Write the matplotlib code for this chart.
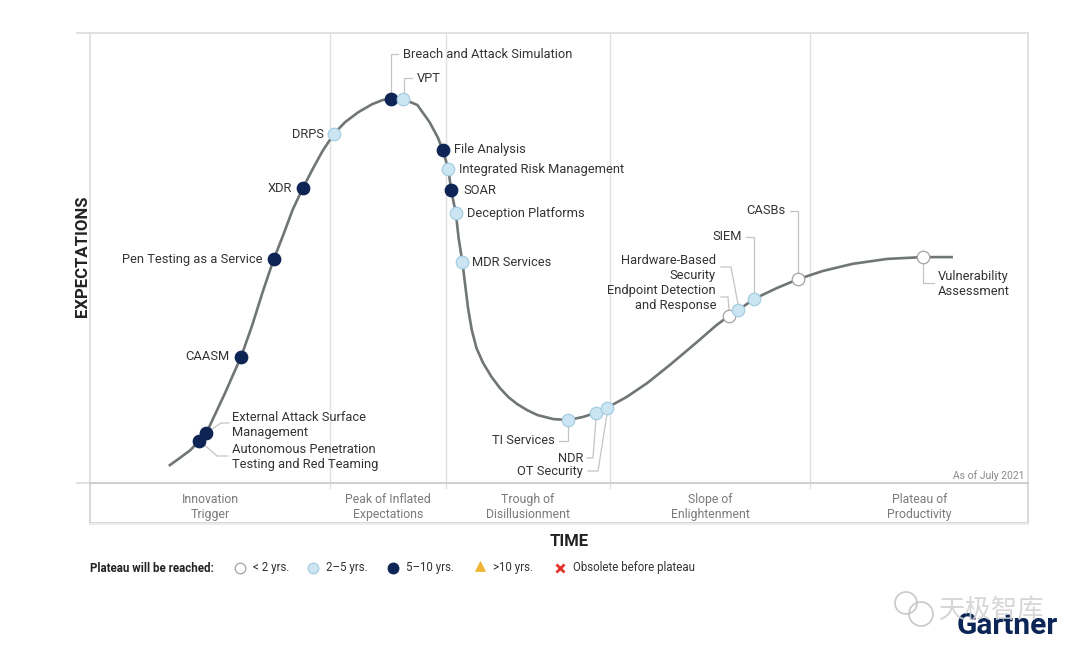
import numpy as np
import matplotlib.pyplot as plt
from matplotlib.patches import Rectangle, Circle

plt.rcParams['font.family'] = ['Roboto', 'DejaVu Sans']

# hype curve (time, expectations), both 0..100
curve_t = [8.4, 9.6, 10.7, 11.6, 12.4, 13.3, 14.4, 15.2, 16.1, 17.3, 18.4, 19.6,
           20.6, 21.6, 22.7, 23.8, 24.8, 26.0, 27.2, 28.6, 30.1, 31.2, 32.1, 32.7,
           33.4, 34.9, 36.2, 37.1, 37.6, 38.2, 38.5, 39.0, 39.3, 39.7, 40.0, 40.3,
           40.7, 41.2, 41.9, 42.8, 43.7, 44.6, 45.5, 46.6, 47.7, 49.4, 51.0, 52.6,
           53.9, 55.1, 57.2, 59.4, 61.8, 64.7, 66.8, 68.1, 69.1, 70.8, 73.2, 75.5,
           78.1, 81.3, 85.0, 88.8, 92.0]
curve_e = [3.8, 5.6, 7.3, 9.3, 11.1, 15.1, 20.0, 23.8, 28.0, 35.1, 42.4, 49.8,
           55.1, 60.7, 65.6, 70.0, 73.8, 77.6, 80.2, 82.4, 84.2, 85.1, 85.3, 85.6,
           85.3, 84.0, 80.2, 76.7, 74.0, 69.8, 65.1, 60.0, 54.4, 49.1, 44.0, 38.9,
           34.0, 30.0, 26.7, 23.6, 21.1, 19.1, 17.6, 16.2, 15.1, 14.2, 14.0, 14.7,
           15.6, 16.7, 19.1, 22.2, 26.2, 31.3, 35.1, 37.1, 38.4, 40.9, 43.3, 45.3,
           47.1, 48.7, 49.8, 50.2, 50.2]

# technologies on the curve
tech_names = ['Autonomous Penetration\nTesting and Red Teaming',
              'External Attack Surface\nManagement', 'CAASM',
              'Pen Testing as a Service', 'XDR', 'DRPS',
              'Breach and Attack Simulation', 'VPT', 'File Analysis',
              'Integrated Risk Management', 'SOAR', 'Deception Platforms',
              'MDR Services', 'TI Services', 'NDR', 'OT Security',
              'Endpoint Detection\nand Response', 'Hardware-Based\nSecurity',
              'SIEM', 'CASBs', 'Vulnerability\nAssessment']
tech_t = [11.6, 12.4, 16.1, 19.6, 22.7, 26.0, 32.1, 33.4, 37.6, 38.2, 38.5, 39.0,
          39.7, 51.0, 53.9, 55.1, 68.1, 69.1, 70.8, 75.5, 88.8]
tech_e = [9.3, 11.1, 28.0, 49.8, 65.6, 77.6, 85.3, 85.3, 74.0, 69.8, 65.1, 60.0,
          49.1, 14.0, 15.6, 16.7, 37.1, 38.4, 40.9, 45.3, 50.2]
tech_plateau = ['5-10', '5-10', '5-10', '5-10', '5-10', '2-5', '5-10', '2-5', '5-10',
                '2-5', '5-10', '2-5', '2-5', '2-5', '2-5', '2-5', '<2', '2-5', '2-5',
                '<2', '<2']

phase_names = ['Innovation\nTrigger', 'Peak of Inflated\nExpectations',
               'Trough of\nDisillusionment', 'Slope of\nEnlightenment',
               'Plateau of\nProductivity']
phase_edges = [0, 25.6, 37.95, 55.4, 76.8, 100]

legend_keys = ['<2', '2-5', '5-10', '>10', 'obsolete']
legend_texts = ['< 2 yrs.', '2\u20135 yrs.', '5\u201310 yrs.', '>10 yrs.',
                'Obsolete before plateau']

NAVY = '#0d2454'
styles = {
    '<2': dict(marker='o', ms=9, mfc='white', mec='#a3a3a3', mew=0.9),
    '2-5': dict(marker='o', ms=9, mfc='#cbe5f3', mec='#a6cde2', mew=0.9),
    '5-10': dict(marker='o', ms=9, mfc=NAVY, mec=NAVY, mew=0.9),
    '>10': dict(marker='^', ms=8.5, mfc='#f0b530', mec='#f0b530', mew=0.5),
    'obsolete': dict(marker='x', ms=6.5, mfc='#e2332c', mec='#e2332c', mew=2),
}

# plot box in reference pixels
X0, X1, Y0, Y1 = 90, 1028, 33, 483
W, H = 1080, 660


def px(x, y):
    # reference pixel -> (time, expectations)
    return (x - X0) / (X1 - X0) * 100, (Y1 - y) / (Y1 - Y0) * 100


# label placement: text anchor (px), alignment, leader path (px)
label_layout = {
    'Autonomous Penetration\nTesting and Red Teaming': ((232, 457), 'left', [(200, 441), (217, 456), (228, 456)]),
    'External Attack Surface\nManagement': ((232, 425), 'left', [(206, 433), (221, 423), (229, 423)]),
    'CAASM': ((230, 357), 'right', None),
    'Pen Testing as a Service': ((263, 259), 'right', None),
    'XDR': ((292, 188), 'right', None),
    'DRPS': ((324, 134), 'right', None),
    'Breach and Attack Simulation': ((403, 54), 'left', [(391, 93), (391, 54), (398, 54)]),
    'VPT': ((417, 78), 'left', [(404, 93), (404, 78), (412, 78)]),
    'File Analysis': ((454, 150), 'left', None),
    'Integrated Risk Management': ((459, 170), 'left', None),
    'SOAR': ((463, 191), 'left', None),
    'Deception Platforms': ((467, 214), 'left', None),
    'MDR Services': ((472, 263), 'left', None),
    'TI Services': ((555, 441), 'right', [(568, 425), (568, 441), (559, 441)]),
    'NDR': ((583, 458), 'right', [(596, 418), (593, 458), (587, 458)]),
    'OT Security': ((583, 472), 'right', [(607, 414), (598, 471), (588, 471)]),
    'Endpoint Detection\nand Response': ((716, 298), 'right', [(729, 310), (728, 297), (721, 297)]),
    'Hardware-Based\nSecurity': ((716, 268), 'right', [(738, 304), (731, 267), (721, 267)]),
    'SIEM': ((742, 237), 'right', [(754, 293), (754, 237), (746, 237)]),
    'CASBs': ((785, 211), 'right', [(798, 273), (798, 211), (790, 211)]),
    'Vulnerability\nAssessment': ((938, 284), 'left', [(923, 263), (923, 283), (934, 283)]),
}

fig = plt.figure(figsize=(W / 100, H / 100), dpi=100)

# background axes in pixel units for frame pieces, legend, logo
bg = fig.add_axes([0, 0, 1, 1])
bg.set_xlim(0, W)
bg.set_ylim(H, 0)
bg.axis('off')

ax = fig.add_axes([X0 / W, 1 - Y1 / H, (X1 - X0) / W, (Y1 - Y0) / H])
ax.set_xlim(0, 100)
ax.set_ylim(0, 100)
for s in ax.spines.values():
    s.set_color('#dcdcdc')
    s.set_linewidth(1.2)
ax.spines['bottom'].set_color('#c9c9c9')
ax.set_xticks([])
ax.set_yticks([0, 100])
ax.set_yticklabels([])
ax.tick_params(axis='y', length=10, color='#dcdcdc', width=1.2, pad=0)

# phase band under the plot
bg.add_patch(Rectangle((X0, Y1), X1 - X0, 40, fill=False, ec='#d6d6d6', lw=1.3))
bg.plot([X0, X1], [Y1 + 41, Y1 + 41], color='#ececec', lw=1.5)
for e in phase_edges[1:-1]:
    ax.plot([e, e], [-1, 100], color='#e0e0e0', lw=1, clip_on=False)
for i, name in enumerate(phase_names):
    c = (phase_edges[i] + phase_edges[i + 1]) / 2
    bg.text(X0 + c / 100 * (X1 - X0), 507, name, ha='center', va='center',
            fontsize=8.8, color='#7a7a7a', linespacing=1.25)

ax.plot(curve_t, curve_e, color='#6f7675', lw=1.9, solid_joinstyle='round',
        solid_capstyle='butt', zorder=2)

for name, t, e, p in zip(tech_names, tech_t, tech_e, tech_plateau):
    ax.plot([t], [e], linestyle='none', zorder=4, **styles[p])
    (tx, ty), ha, path = label_layout[name]
    lx, ly = px(tx, ty)
    ax.text(lx, ly, name, ha=ha, va='center', fontsize=9.3, color='#333333',
            linespacing=1.15, zorder=5)
    if path:
        pts = [px(a, b) for a, b in path]
        ax.plot([q[0] for q in pts], [q[1] for q in pts], color='#c4c4c4',
                lw=0.9, zorder=3, clip_on=False)

ax.text(99.6, 1.6, 'As of July 2021', ha='right', va='center', fontsize=7.5,
        color='#8a8a8a')

bg.text(82, 256, 'EXPECTATIONS', rotation=90, ha='center', va='center',
        fontsize=12, fontweight='bold', color='#222222')
bg.text(569, 541, 'TIME', ha='center', va='center', fontsize=12,
        fontweight='bold', color='#222222')

# legend row
bg.text(90, 568, 'Plateau will be reached:', ha='left', va='center', fontsize=8.3,
        fontweight='bold', color='#222222')
leg_x = [240, 313, 393, 480, 560]
for x, key, txt in zip(leg_x, legend_keys, legend_texts):
    st = dict(styles[key])
    st['ms'] = st['ms'] * 0.85
    bg.plot([x], [568 if key != '>10' else 566], linestyle='none', **st)
    bg.text(x + 13, 568, txt, ha='left', va='center', fontsize=8.3, color='#333333')

# logo and watermark
bg.text(1058, 626, 'Gartner', ha='right', va='center', fontsize=21.5,
        fontweight='bold', color='#0b2656')
bg.add_patch(Circle((906, 603), 11, fill=False, ec='#c8c8c8', lw=1.2))
bg.add_patch(Circle((921, 614), 12, fill=False, ec='#c8c8c8', lw=1.2))
bg.text(992, 610, '天极智库', ha='center', va='center', fontsize=19,
        color='#d0d0d0', alpha=0.85, family=['Noto Sans CJK SC', 'DejaVu Sans'])

fig.savefig('out.png', dpi=100)
